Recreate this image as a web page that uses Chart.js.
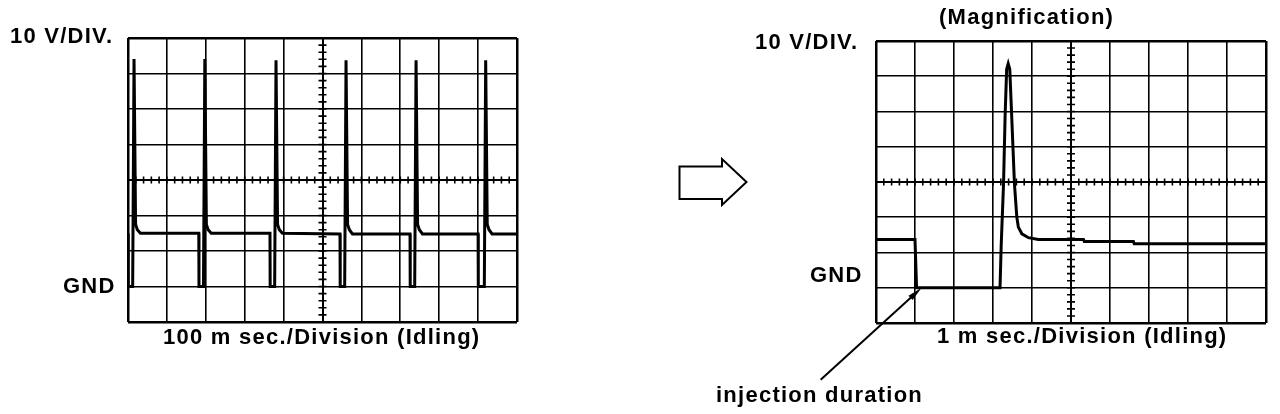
<!DOCTYPE html>
<html>
<head>
<meta charset="utf-8">
<script src="https://cdn.jsdelivr.net/npm/chart.js@4"></script>
<style>
  html, body { margin: 0; padding: 0; background: #fff; }
  #page { position: relative; width: 1280px; height: 414px; overflow: hidden; }
  canvas { position: absolute; left: 0; top: 0; }
  .lbl {
    position: absolute;
    font-family: "Liberation Sans", Arial, sans-serif;
    font-weight: bold;
    font-size: 22px;
    line-height: 22px;
    letter-spacing: 1.25px;
    color: #000;
    white-space: nowrap;
  }
</style>
</head>
<body>
<div id="page">
  <canvas id="overview" width="1280" height="414"></canvas>
  <canvas id="magnified" width="1280" height="414"></canvas>

  <div class="lbl" style="left:10px;top:25px">10 V/DIV.</div>
  <div class="lbl" style="left:63px;top:275px">GND</div>
  <div class="lbl" style="left:163px;top:326px">100 m sec./Division (Idling)</div>

  <div class="lbl" style="left:939px;top:6px">(Magnification)</div>
  <div class="lbl" style="left:755px;top:31px">10 V/DIV.</div>
  <div class="lbl" style="left:810px;top:264px">GND</div>
  <div class="lbl" style="left:937px;top:325px">1 m sec./Division (Idling)</div>
  <div class="lbl" style="left:716px;top:384px">injection duration</div>
</div>

<script>
// Both screens: 10 V per division, GND one division above the bottom line
const voltMin = -10;
const voltMax = 70;
const voltStep = 10;

// Left screen, 100 ms per division (idling)
const overviewSpanMs = 1000;
const overviewStepMs = 100;
const overviewTimeMs = [
    0, 0.5, 12, 15.5, 19.5, 24, 32,
    182, 182.5, 194, 197.5, 201.5, 206, 214,
    365, 365.5, 377, 380.5, 384.5, 389, 397,
    545, 545.5, 557, 560.5, 564.5, 569, 577,
    725, 725.5, 737, 740.5, 744.5, 749, 757,
    900, 900.5, 916, 919.5, 923.5, 928, 936,
    1000
];
const overviewVolts = [
    15, 0, 0, 64.1, 17.5, 16, 15,
    15, 0, 0, 64.1, 17.5, 16, 15,
    15, 0, 0, 63.7, 17.5, 16, 15,
    14.8, 0, 0, 63.7, 17.5, 16, 14.8,
    14.8, 0, 0, 63.7, 17.5, 16, 14.8,
    14.8, 0, 0, 63.7, 17.5, 16, 14.8,
    14.8
];

// Right screen, 1 ms per division (magnified single injection)
const magSpanMs = 10;
const magStepMs = 1;
const magTimeMs = [0, 1.0, 1.04, 3.18, 3.21, 3.27, 3.31, 3.35, 3.39, 3.43, 3.48, 3.55, 3.61, 3.65, 3.74, 3.91, 4.16, 5.32, 5.34, 6.6, 6.62, 10];
const magVolts  = [13.7, 13.7, 0, 0, 12, 29.5, 48.5, 62, 63.6, 62, 48.5, 29.5, 20.1, 17.2, 15.3, 14.2, 13.7, 13.7, 13.15, 13.15, 12.5, 12.5];

// where the "injection duration" pointer lands
const injectionStartMs = 1.17;

function toPoints(xs, ys) {
    return xs.map((x, i) => ({ x: x, y: ys[i] }));
}

// grid: heavy frame, medium centre lines, thin inner lines
function gridWidth(scale, value) {
    if (value === scale.min || value === scale.max) return 2.5;
    if (Math.abs(value - (scale.min + scale.max) / 2) < 1e-9) return 2;
    return 1.6;
}

function screenScales(xMax, xStep) {
    return {
        x: {
            type: 'linear', min: 0, max: xMax,
            ticks: { display: false, stepSize: xStep },
            grid: { color: '#000', drawTicks: false, lineWidth: ctx => gridWidth(ctx.scale, ctx.tick.value) },
            border: { display: false }
        },
        y: {
            type: 'linear', min: voltMin, max: voltMax,
            ticks: { display: false, stepSize: voltStep },
            grid: { color: '#000', drawTicks: false, lineWidth: ctx => gridWidth(ctx.scale, ctx.tick.value) },
            border: { display: false }
        }
    };
}

// small graduation marks on the two centre lines (5 per division)
const centreTicks = {
    id: 'centreTicks',
    beforeDatasetsDraw(chart) {
        const { ctx, scales: { x, y } } = chart;
        const px = x.getPixelForValue((x.min + x.max) / 2);
        const py = y.getPixelForValue((y.min + y.max) / 2);
        ctx.save();
        ctx.strokeStyle = '#000';
        ctx.lineWidth = 1.6;
        ctx.beginPath();
        const xs = (x.max - x.min) / 50;
        for (let i = 1; i < 50; i++) {
            const p = x.getPixelForValue(x.min + i * xs);
            ctx.moveTo(p, py - 3.5);
            ctx.lineTo(p, py + 3.5);
        }
        const ys = (y.max - y.min) / 40;
        for (let i = 1; i < 40; i++) {
            const p = y.getPixelForValue(y.min + i * ys);
            ctx.moveTo(px - 4, p);
            ctx.lineTo(px + 4, p);
        }
        ctx.stroke();
        ctx.restore();
    }
};

// hollow arrow between the screens + pointer to the injection start
const decorations = {
    id: 'decorations',
    afterDraw(chart) {
        const { ctx, scales: { x, y } } = chart;
        ctx.save();
        ctx.strokeStyle = '#000';
        ctx.fillStyle = '#000';

        ctx.lineWidth = 2;
        ctx.beginPath();
        ctx.moveTo(679.5, 166.5);
        ctx.lineTo(722, 166.5);
        ctx.lineTo(722, 159);
        ctx.lineTo(746.5, 182);
        ctx.lineTo(722, 205);
        ctx.lineTo(722, 199);
        ctx.lineTo(679.5, 199);
        ctx.closePath();
        ctx.stroke();

        const tipX = x.getPixelForValue(injectionStartMs);
        const tipY = y.getPixelForValue(0);
        const tailX = tipX - 101, tailY = tipY + 92;
        const ang = Math.atan2(tipY - tailY, tipX - tailX);
        ctx.lineWidth = 2;
        ctx.beginPath();
        ctx.moveTo(tailX, tailY);
        ctx.lineTo(tipX - 10 * Math.cos(ang), tipY - 10 * Math.sin(ang));
        ctx.stroke();
        ctx.beginPath();
        ctx.moveTo(tipX, tipY);
        ctx.lineTo(tipX - 15 * Math.cos(ang) + 3 * Math.sin(ang), tipY - 15 * Math.sin(ang) - 3 * Math.cos(ang));
        ctx.lineTo(tipX - 15 * Math.cos(ang) - 3 * Math.sin(ang), tipY - 15 * Math.sin(ang) + 3 * Math.cos(ang));
        ctx.closePath();
        ctx.fill();
        ctx.restore();
    }
};

function makeScreen(canvasId, points, xMax, xStep, padding, extraPlugins) {
    return new Chart(document.getElementById(canvasId), {
        type: 'line',
        data: {
            datasets: [{
                data: points,
                borderColor: '#000',
                borderWidth: 3,
                pointRadius: 0,
                tension: 0,
                fill: false
            }]
        },
        options: {
            responsive: false,
            animation: false,
            layout: { padding: padding },
            scales: screenScales(xMax, xStep),
            plugins: { legend: { display: false }, tooltip: { enabled: false } }
        },
        plugins: [centreTicks].concat(extraPlugins)
    });
}

makeScreen('overview', toPoints(overviewTimeMs, overviewVolts), overviewSpanMs, overviewStepMs,
    { left: 128, top: 38, right: 763, bottom: 92 }, []);

makeScreen('magnified', toPoints(magTimeMs, magVolts), magSpanMs, magStepMs,
    { left: 876, top: 41, right: 14, bottom: 91 }, [decorations]);
</script>
</body>
</html>
